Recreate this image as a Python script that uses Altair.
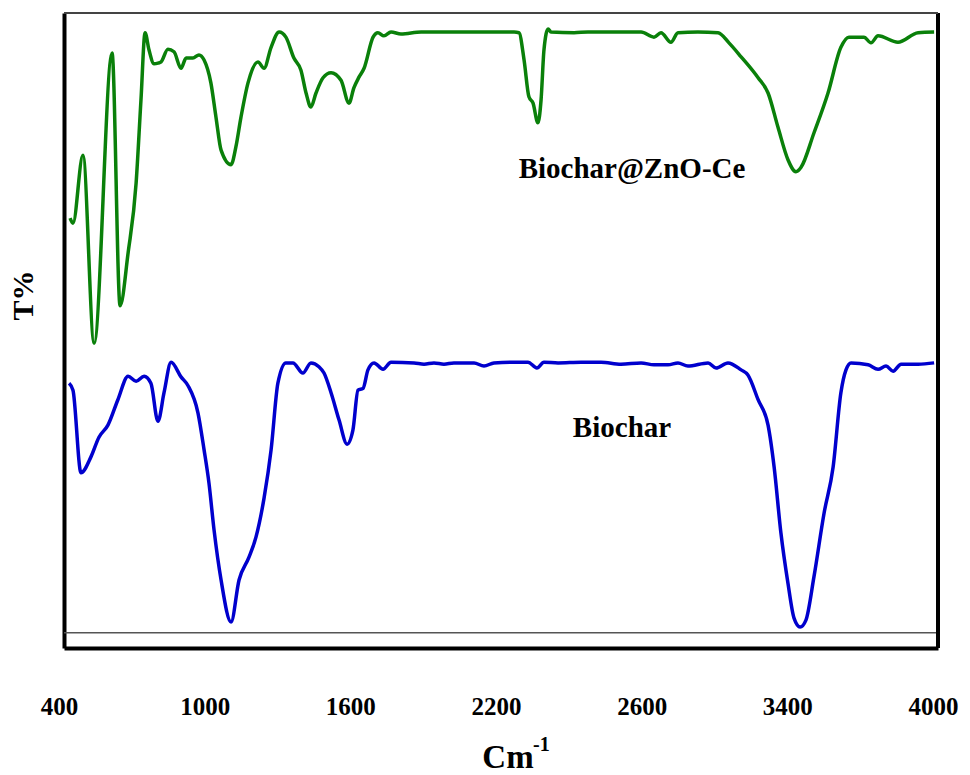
import altair as alt
import pandas as pd

# FTIR spectra: wavenumber (cm^-1) and transmittance (arbitrary %, stacked)
zno_wn = [425, 437, 478, 524, 598, 631, 664, 697, 717, 734, 750, 771, 787, 800,
          828, 853, 882, 903, 931, 956, 977, 1005, 1026, 1047, 1088, 1108, 1129,
          1158, 1199, 1224, 1253, 1286, 1314, 1347, 1376, 1397, 1417, 1438, 1467,
          1500, 1541, 1574, 1594, 1615, 1636, 1673, 1693, 1718, 1747, 1788, 1871,
          2006, 2146, 2254, 2274, 2295, 2315, 2332, 2352, 2365, 2377, 2394, 2406,
          2501, 2558, 2694, 2777, 2830, 2859, 2900, 2929, 3011, 3094, 3139, 3189,
          3259, 3300, 3341, 3382, 3415, 3436, 3489, 3547, 3600, 3633, 3695, 3724,
          3753, 3835, 3918, 3984]
zno_t = [67.7, 66.9, 77.6, 48.0, 93.7, 53.9, 62.2, 73.2, 86.3, 96.9, 94.2, 92.0,
         92.1, 92.3, 94.3, 93.9, 91.3, 92.9, 92.9, 93.4, 92.6, 89.0, 83.6, 78.4,
         76.1, 78.9, 83.6, 89.0, 92.3, 91.3, 94.6, 97.0, 96.2, 92.9, 91.0, 87.4,
         85.2, 87.4, 89.8, 90.6, 89.4, 85.8, 88.2, 89.9, 91.3, 96.2, 96.9, 96.4,
         97.0, 96.7, 97.0, 97.0, 97.0, 97.0, 96.9, 92.6, 86.8, 85.8, 82.7, 86.3,
         94.2, 97.5, 97.0, 96.9, 97.0, 97.0, 97.0, 96.2, 96.9, 95.4, 96.9, 97.0,
         96.9, 95.3, 93.1, 89.8, 87.4, 82.0, 76.9, 75.0, 75.7, 81.1, 87.4, 94.6,
         96.2, 96.2, 95.3, 96.4, 95.4, 96.9, 97.0]

bio_wn = [421, 437, 470, 511, 544, 581, 622, 664, 697, 730, 758, 787, 812, 841,
          882, 911, 952, 977, 997, 1018, 1047, 1088, 1121, 1162, 1191, 1224, 1253,
          1281, 1314, 1343, 1384, 1417, 1450, 1471, 1500, 1533, 1566, 1590, 1611,
          1632, 1652, 1677, 1714, 1747, 1842, 1883, 1924, 1965, 2006, 2089, 2130,
          2171, 2254, 2311, 2348, 2377, 2435, 2530, 2612, 2694, 2777, 2830, 2888,
          2929, 2970, 3053, 3086, 3135, 3189, 3217, 3259, 3300, 3325, 3353, 3382,
          3407, 3432, 3456, 3489, 3531, 3568, 3600, 3621, 3642, 3712, 3753, 3786,
          3815, 3848, 3918, 3984]
bio_t = [41.7, 40.6, 27.6, 30.1, 33.2, 35.1, 39.1, 42.8, 42.0, 42.8, 41.7, 35.7,
         40.2, 45.0, 42.7, 41.3, 37.0, 31.2, 26.0, 18.6, 10.7, 4.1, 10.7, 14.3,
         17.5, 23.6, 31.2, 41.7, 44.9, 44.9, 43.3, 44.9, 44.3, 43.3, 40.2, 35.9,
         32.1, 34.3, 40.6, 40.9, 43.8, 44.9, 43.9, 45.0, 44.9, 44.7, 44.9, 44.7,
         44.9, 44.9, 44.4, 44.9, 45.0, 45.0, 44.1, 45.0, 44.9, 45.0, 45.0, 44.7,
         44.9, 44.6, 44.6, 44.9, 44.4, 44.9, 44.1, 44.9, 43.8, 43.0, 39.1, 35.1,
         28.5, 18.1, 10.2, 4.7, 3.3, 4.4, 11.2, 21.3, 28.5, 40.2, 43.8, 44.9,
         44.6, 43.9, 44.4, 43.6, 44.7, 44.7, 44.9]

series_names = ["Biochar@ZnO-Ce", "Biochar"]
series_colors = ["#0a800a", "#0000cd"]

tick_values = [400, 1000, 1600, 2200, 2800, 3400, 4000]
tick_labels = ["400", "1000", "1600", "2200", "2600", "3400", "4000"]
baseline_t = 2.4

W, H = 874, 635
FONT = "Liberation Serif"

spectra = pd.concat([
    pd.DataFrame({"wn": zno_wn, "T": zno_t, "sample": series_names[0]}),
    pd.DataFrame({"wn": bio_wn, "T": bio_t, "sample": series_names[1]}),
])

label_expr = " : ".join(
    f"datum.value == {v} ? '{t}'" for v, t in zip(tick_values, tick_labels)
) + " : datum.label"

x_scale = alt.Scale(domain=[400, 4000], nice=False, zero=False)
y_scale = alt.Scale(domain=[0, 100], nice=False, zero=False)

x_axis = alt.Axis(
    values=tick_values, labelExpr=label_expr, ticks=False, grid=False,
    domainColor="black", domainWidth=4, labelFont=FONT, labelFontSize=25,
    labelFontWeight="bold", labelColor="black", labelPadding=58,
    labelBaseline="middle", labelOffset=-5, labelFlush=False,
    labelOverlap=False, title=None,
)
y_axis = alt.Axis(
    labels=False, ticks=False, grid=False, domainColor="black", domainWidth=4,
    title="T%", titleFont=FONT, titleFontSize=30, titleFontWeight="bold",
    titleColor="black", titleAngle=270, titleX=-41, titleY=282,
    titleAlign="center", titleBaseline="middle",
)

lines = alt.Chart(spectra).mark_line(
    strokeWidth=3.5, interpolate="monotone", clip=True
).encode(
    x=alt.X("wn:Q", scale=x_scale, axis=x_axis),
    y=alt.Y("T:Q", scale=y_scale, axis=y_axis),
    color=alt.Color("sample:N", scale=alt.Scale(domain=series_names, range=series_colors), legend=None),
    detail="sample:N",
)

# thin reference line near the bottom of the frame
baseline = alt.Chart(pd.DataFrame({"T": [baseline_t]})).mark_rule(
    color="#555555", strokeWidth=1.5
).encode(y=alt.Y("T:Q", scale=y_scale, axis=y_axis))

one = alt.Data(values=[{}])

right_edge = alt.Chart(one).mark_rule(color="black", strokeWidth=4).encode(
    x=alt.value(W), y=alt.value(0), y2=alt.value(H)
)
top_edge = alt.Chart(one).mark_rule(color="#444444", strokeWidth=2).encode(
    x=alt.value(0), x2=alt.value(W), y=alt.value(0)
)

def text_at(txt, x, y, size, align="center"):
    return alt.Chart(one).mark_text(
        text=txt, font=FONT, fontSize=size, fontWeight="bold", color="black",
        align=align, baseline="alphabetic",
    ).encode(x=alt.value(x), y=alt.value(y))

label_zno = text_at(series_names[0], 568, 165, 29)
label_bio = text_at(series_names[1], 558, 424, 29)
x_title = text_at("Cm", 444, 755, 33)
x_title_sup = text_at("-1", 469, 738, 20, align="left")

chart = alt.layer(
    lines, baseline, right_edge, top_edge, label_zno, label_bio, x_title, x_title_sup
).properties(
    width=W, height=H,
    autosize=alt.AutoSizeParams(type="none"),
    padding={"left": 64, "top": 13, "right": 32, "bottom": 127},
    background="white",
).configure_view(stroke=None)

chart.save("out.html", embed_options={"renderer": "svg", "actions": False})
